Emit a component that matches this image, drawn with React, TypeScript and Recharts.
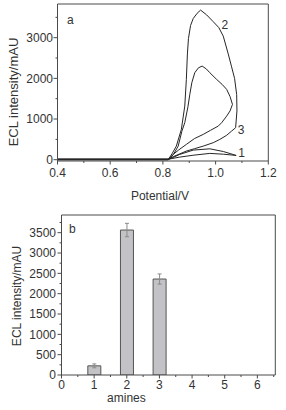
import React from 'react';
import {
  LineChart, Line, XAxis, YAxis, ReferenceLine, ReferenceDot,
  BarChart, Bar, ErrorBar,
} from 'recharts';

// ---------- Panel a: ECL intensity vs potential (three scan loops) ----------
const curve1Potential = [0.4, 0.82, 0.864, 0.915, 0.978, 1.03, 1.078, 1.03, 0.978, 0.915, 0.864, 0.82, 0.4];
const curve1Intensity = [0, 0, 130, 236, 268, 200, 105, 135, 155, 110, 64, 12, 12];

const curve2Potential = [0.4, 0.82, 0.835, 0.851, 0.87, 0.883, 0.889, 0.893, 0.897, 0.905, 0.915, 0.93, 0.943, 0.966, 0.99, 1.012, 1.029, 1.048, 1.06, 1.072, 1.08, 1.081, 1.076, 1.06, 1.042, 1.016, 0.991, 0.953, 0.92, 0.889, 0.839, 0.82, 0.4];
const curve2Intensity = [0, 0, 150, 334, 745, 1318, 1974, 2600, 2980, 3300, 3470, 3600, 3678, 3560, 3400, 3250, 3039, 2600, 2300, 2000, 1600, 1200, 787, 700, 600, 499, 418, 334, 270, 212, 74, 15, 15];

const curve3Potential = [0.4, 0.82, 0.84, 0.858, 0.872, 0.883, 0.895, 0.902, 0.91, 0.921, 0.935, 0.949, 0.965, 0.978, 1.004, 1.025, 1.042, 1.055, 1.064, 1.055, 1.042, 1.023, 1.01, 0.98, 0.953, 0.92, 0.889, 0.86, 0.839, 0.82, 0.4];
const curve3Intensity = [0, 0, 130, 334, 700, 910, 1300, 1600, 1900, 2139, 2260, 2301, 2230, 2139, 1974, 1850, 1729, 1550, 1360, 1200, 1072, 910, 826, 720, 622, 520, 376, 240, 130, 10, 10];

const curveNames = ['1', '2', '3'];
const curveLabelPotential = [1.099, 1.035, 1.097];
const curveLabelIntensity = [170, 3320, 745];

const potentialTicks = [0.4, 0.5, 0.6, 0.7, 0.8, 0.9, 1.0, 1.1, 1.2];
const potentialMajor = [0.4, 0.6, 0.8, 1.0, 1.2];
const intensityTicksA = [0, 500, 1000, 1500, 2000, 2500, 3000, 3500];
const intensityMajorA = [0, 1000, 2000, 3000];
const potentialDomain = [0.4, 1.2];
const intensityDomainA = [-32, 3828];

// ---------- Panel b: ECL intensity for amines ----------
const amines = [1, 2, 3];
const amineIntensity = [225, 3565, 2360];
const amineError = [48, 165, 125];

const amineTicks = [0, 0.5, 1, 1.5, 2, 2.5, 3, 3.5, 4, 4.5, 5, 5.5, 6, 6.5];
const amineMajor = [0, 1, 2, 3, 4, 5, 6];
const intensityTicksB = [0, 250, 500, 750, 1000, 1250, 1500, 1750, 2000, 2250, 2500, 2750, 3000, 3250, 3500, 3750];
const intensityMajorB = [0, 500, 1000, 1500, 2000, 2500, 3000, 3500];
const amineDomain = [0, 6.55];
const intensityDomainB = [0, 3935];

const FONT = '"Liberation Sans", Arial, Helvetica, sans-serif';
const AXIS = '#4a4a4a';
const TEXT = '#333';
const CURVE = '#262626';

const toPoints = (xs: number[], ys: number[]) => xs.map((v, i) => ({ v, i: ys[i] }));
const curves = [
  toPoints(curve1Potential, curve1Intensity),
  toPoints(curve2Potential, curve2Intensity),
  toPoints(curve3Potential, curve3Intensity),
];
const barData = amines.map((a, i) => ({ amine: a, value: amineIntensity[i], err: amineError[i] }));

const isIn = (arr: number[], v: number) => arr.some((m) => Math.abs(m - v) < 1e-9);

const makeXTick = (majors: number[], fmt: (v: number) => string, gap: number) => (props: any) => {
  const { x, y, payload } = props;
  const major = isIn(majors, payload.value);
  return (
    <g>
      <line x1={x} y1={y} x2={x} y2={y + (major ? 3.5 : 2)} stroke={AXIS} strokeWidth={1} />
      {major && (
        <text x={x} y={y + gap + 8.6} textAnchor="middle" fontSize={12} fontFamily={FONT} fill={TEXT}>
          {fmt(payload.value)}
        </text>
      )}
    </g>
  );
};

const makeYTick = (majors: number[], gap: number) => (props: any) => {
  const { x, y, payload } = props;
  const major = isIn(majors, payload.value);
  return (
    <g>
      <line x1={x} y1={y} x2={x - (major ? 4 : 2)} y2={y} stroke={AXIS} strokeWidth={1} />
      {major && (
        <text x={x - gap} y={y + 4.3} textAnchor="end" fontSize={12} fontFamily={FONT} fill={TEXT}>
          {String(payload.value)}
        </text>
      )}
    </g>
  );
};

const titleStyle = { fontSize: 12, fontFamily: FONT, fill: TEXT, textAnchor: 'middle' as const };

export default function App() {
  return (
    <div style={{ position: 'absolute', left: 0, top: 0, width: 286, height: 410, background: '#fff' }}>
      <div style={{ position: 'absolute', left: 0, top: 0 }}>
        <LineChart width={286} height={205} margin={{ top: 4, right: 17.7, bottom: 0, left: 0 }}>
          <XAxis
            dataKey="v"
            type="number"
            domain={potentialDomain}
            allowDataOverflow
            ticks={potentialTicks}
            interval={0}
            height={44}
            tickSize={0}
            tickMargin={0}
            tickLine={false}
            stroke={AXIS}
            tick={makeXTick(potentialMajor, (v) => v.toFixed(1), 7)}
            label={{ value: 'Potential/V', position: 'insideBottom', offset: 5.5, dx: -3, style: titleStyle }}
          />
          <YAxis
            type="number"
            domain={intensityDomainA}
            allowDataOverflow
            ticks={intensityTicksA}
            interval={0}
            width={57.5}
            tickSize={0}
            tickMargin={0}
            tickLine={false}
            stroke={AXIS}
            tick={makeYTick(intensityMajorA, 4.5)}
            label={{ value: 'ECL intensity/mAU', angle: -90, position: 'insideLeft', offset: 0, dx: 13, dy: 9.5, style: { ...titleStyle, fontSize: 13 } }}
          />
          <ReferenceLine y={intensityDomainA[1]} stroke={AXIS} strokeWidth={1} />
          <ReferenceLine x={potentialDomain[1]} stroke={AXIS} strokeWidth={1} />
          {curves.map((c, k) => (
            <Line
              key={k}
              data={c}
              dataKey="i"
              type="linear"
              stroke={CURVE}
              strokeWidth={1}
              dot={false}
              activeDot={false}
              isAnimationActive={false}
            />
          ))}
          {curveNames.map((n, k) => (
            <ReferenceDot
              key={n}
              x={curveLabelPotential[k]}
              y={curveLabelIntensity[k]}
              r={0}
              stroke="none"
              fill="none"
              label={{ value: n, position: 'center', style: { fontSize: 12, fontFamily: FONT, fill: TEXT } }}
            />
          ))}
          <ReferenceDot
            x={0.449}
            y={3445}
            r={0}
            stroke="none"
            fill="none"
            label={{ value: 'a', position: 'center', style: { fontSize: 12, fontFamily: FONT, fill: TEXT } }}
          />
        </LineChart>
      </div>
      <div style={{ position: 'absolute', left: 0, top: 205 }}>
        <BarChart width={286} height={205} data={barData} margin={{ top: 10, right: 10.7, bottom: 0, left: 0 }}>
          <XAxis
            dataKey="amine"
            type="number"
            domain={amineDomain}
            allowDataOverflow
            ticks={amineTicks}
            interval={0}
            height={35}
            tickSize={0}
            tickMargin={0}
            tickLine={false}
            stroke={AXIS}
            tick={makeXTick(amineMajor, (v) => String(v), 5.5)}
            label={{ value: 'amines', position: 'insideBottom', offset: 8, dx: -42, style: titleStyle }}
          />
          <YAxis
            type="number"
            domain={intensityDomainB}
            allowDataOverflow
            ticks={intensityTicksB}
            interval={0}
            width={61.5}
            tickSize={0}
            tickMargin={0}
            tickLine={false}
            stroke={AXIS}
            tick={makeYTick(intensityMajorB, 5.5)}
            label={{ value: 'ECL intensity/mAU', angle: -90, position: 'insideLeft', offset: 0, dx: 16.5, dy: 1, style: titleStyle }}
          />
          <ReferenceLine y={intensityDomainB[1]} stroke={AXIS} strokeWidth={1} />
          <ReferenceLine x={amineDomain[1]} stroke={AXIS} strokeWidth={1} />
          <Bar dataKey="value" barSize={13} fill="#c3c3c7" stroke="#555" strokeWidth={1} isAnimationActive={false}>
            <ErrorBar dataKey="err" width={2} stroke="#8a8a8a" strokeWidth={1} direction="y" />
          </Bar>
          <ReferenceDot
            x={0.336}
            y={3591}
            r={0}
            stroke="none"
            fill="none"
            label={{ value: 'b', position: 'center', style: { fontSize: 12, fontFamily: FONT, fill: TEXT } }}
          />
        </BarChart>
      </div>
    </div>
  );
}
